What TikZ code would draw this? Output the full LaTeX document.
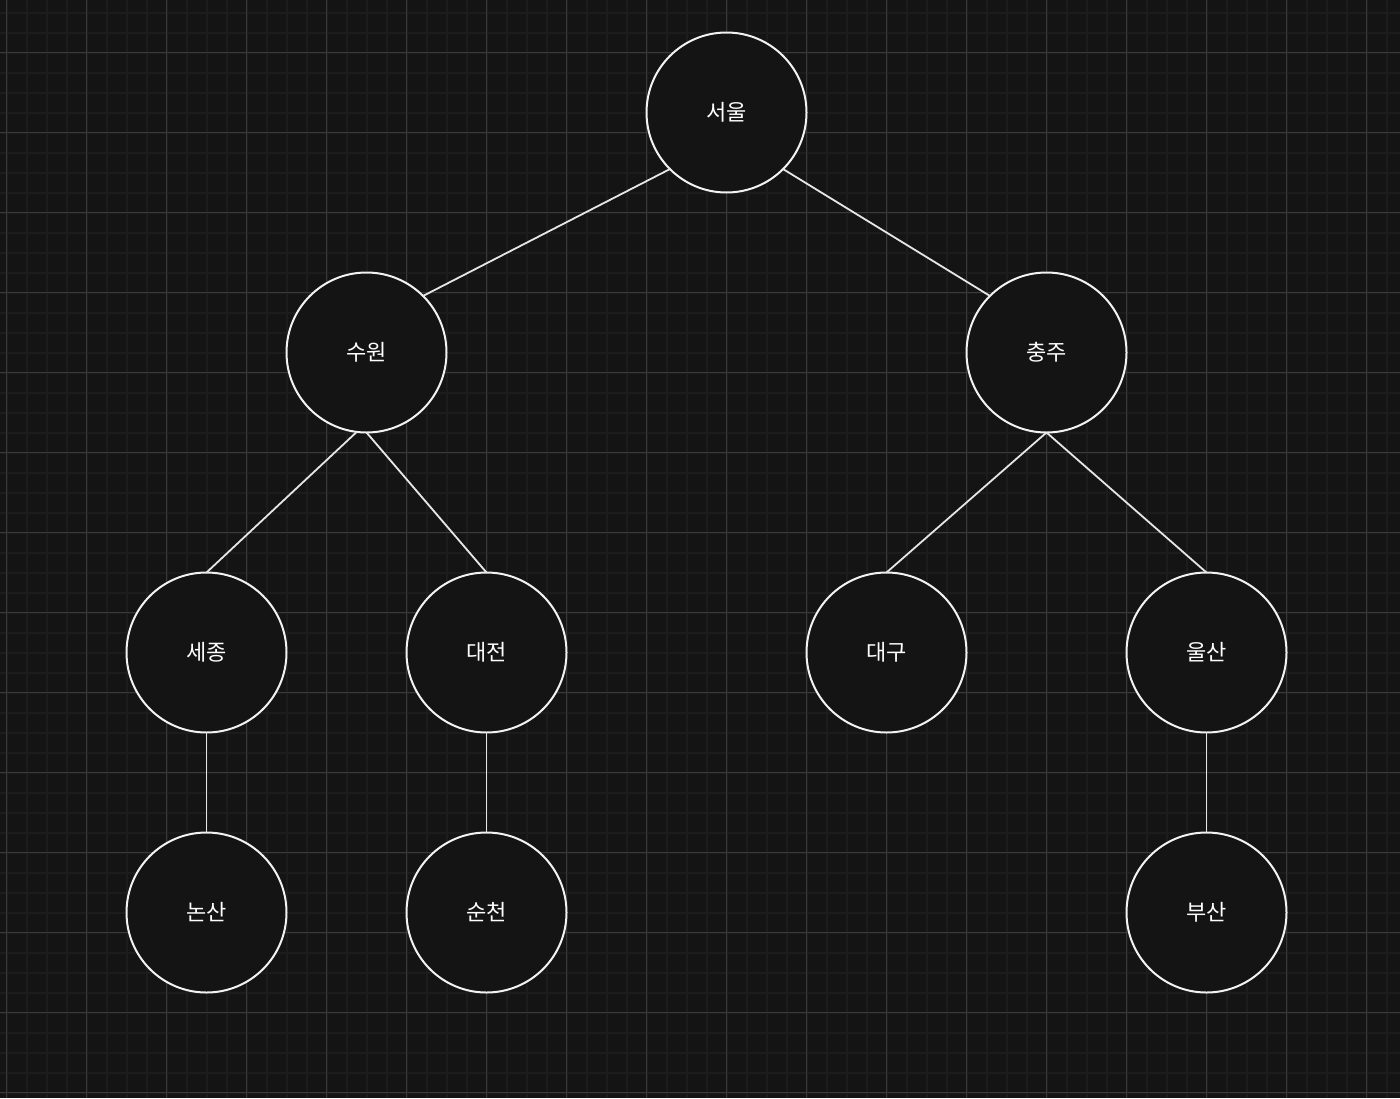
\documentclass[tikz,border=0pt]{standalone}
\usepackage{fontspec}
\newfontfamily\krfont{Noto Sans CJK KR}
\definecolor{bgc}{HTML}{141414}
\definecolor{minorc}{HTML}{1C1C1C}
\definecolor{majorc}{HTML}{3A3A3A}
\definecolor{strokec}{HTML}{F2F2F2}
\begin{document}
\begin{tikzpicture}[x=1pt,y=-1pt,
  city/.style={circle,draw=strokec,line width=2pt,fill=bgc,minimum size=160pt,inner sep=0pt,outer sep=0pt,text=white,font=\krfont\fontsize{22}{26}\selectfont},
  link/.style={draw=strokec!95!black,line width=1.8pt}]
\fill[bgc] (0,0) rectangle (1400,1098);
\useasboundingbox (0,0) rectangle (1400,1098);
\foreach \i in {0,...,69} {\draw[minorc,line width=2pt] (6.5+20*\i,0) -- (6.5+20*\i,1098);}
\foreach \j in {0,...,54} {\draw[minorc,line width=2pt] (0,12.5+20*\j) -- (1400,12.5+20*\j);}
\foreach \i in {0,...,17} {\draw[majorc,line width=1pt] (6.5+80*\i,0) -- (6.5+80*\i,1098);}
\foreach \j in {0,...,13} {\draw[majorc,line width=1pt] (0,52.5+80*\j) -- (1400,52.5+80*\j);}
\node[city] (seoul) at (726.5,112.5) {서울};
\node[city] (suwon) at (366.5,352.5) {수원};
\node[city] (chungju) at (1046.5,352.5) {충주};
\node[city] (sejong) at (206.5,652.5) {세종};
\node[city] (daejeon) at (486.5,652.5) {대전};
\node[city] (daegu) at (886.5,652.5) {대구};
\node[city] (ulsan) at (1206.5,652.5) {울산};
\node[city] (nonsan) at (206.5,912.5) {논산};
\node[city] (suncheon) at (486.5,912.5) {순천};
\node[city] (busan) at (1206.5,912.5) {부산};
\draw[link] (seoul.south west) -- (suwon.north east);
\draw[link] (seoul.south east) -- (chungju.north west);
\draw[link] (suwon.-97) -- (sejong.north);
\draw[link] (suwon.south) -- (daejeon.north);
\draw[link] (chungju.south) -- (daegu.north);
\draw[link] (chungju.south) -- (ulsan.north);
\draw[link] (sejong.south) -- (nonsan.north);
\draw[link] (daejeon.south) -- (suncheon.north);
\draw[link] (ulsan.south) -- (busan.north);
\end{tikzpicture}
\end{document}
